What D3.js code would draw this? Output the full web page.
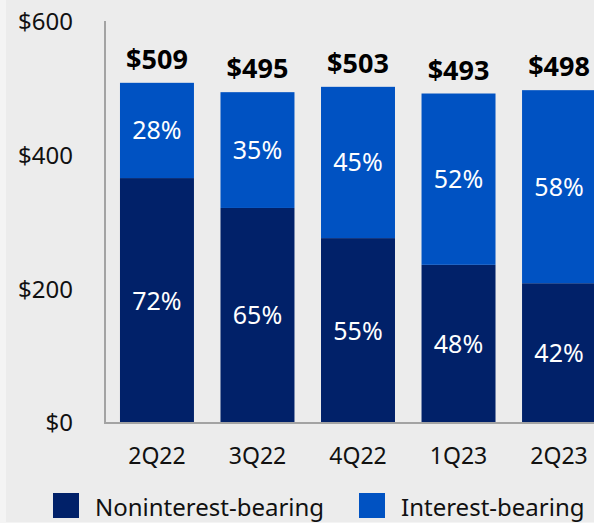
<!DOCTYPE html>
<html>
<head>
<meta charset="utf-8">
<script src="https://cdn.jsdelivr.net/npm/d3@7"></script>
<style>
  html, body { margin: 0; padding: 0; background: #f4f4f4; }
  svg { display: block; }
  text { font-family: "Noto Sans", "Open Sans", sans-serif; }
</style>
</head>
<body>
<svg id="chart" width="594" height="523"></svg>
<script>
// Deposits by quarter ($B) and the share held in noninterest-bearing accounts
const quarters = ["2Q22", "3Q22", "4Q22", "1Q23", "2Q23"];
const totals = [509, 495, 503, 493, 498];
const nonInterestPct = [72, 65, 55, 48, 42];
const interestPct = [28, 35, 45, 52, 58];
const yTicks = [0, 200, 400, 600];
const seriesNames = ["Noninterest-bearing", "Interest-bearing"];
const seriesColors = ["#012169", "#0052c2"];

const svg = d3.select("#chart");
const W = 594, H = 523;

// panel background
svg.append("rect").attr("x", 6).attr("y", 0).attr("width", W - 6).attr("height", H - 1)
  .attr("fill", "#ececec");

const plot = { left: 105, right: 611, top: 22, bottom: 423 };

const x = d3.scaleBand().domain(quarters).range([plot.left, plot.right])
  .paddingInner(0.264).paddingOuter(0.149);
const y = d3.scaleLinear().domain([0, 600]).range([plot.bottom, plot.top]);

const rows = quarters.map((q, i) => ({
  q,
  total: totals[i],
  non: totals[i] * nonInterestPct[i] / 100,
  nonPct: nonInterestPct[i],
  intPct: interestPct[i]
}));

// stacked bars
const g = svg.append("g");
rows.forEach(d => {
  g.append("rect")
    .attr("x", x(d.q)).attr("width", x.bandwidth())
    .attr("y", y(d.non)).attr("height", y(0) - y(d.non))
    .attr("fill", seriesColors[0]);
  g.append("rect")
    .attr("x", x(d.q)).attr("width", x.bandwidth())
    .attr("y", y(d.total)).attr("height", y(d.non) - y(d.total))
    .attr("fill", seriesColors[1]);

  const cx = x(d.q) + x.bandwidth() / 2;
  g.append("text")
    .attr("x", cx).attr("y", (y(d.non) + y(0)) / 2).attr("dy", "0.36em")
    .attr("text-anchor", "middle").attr("fill", "#fff").attr("font-size", 25)
    .text(d.nonPct + "%");
  g.append("text")
    .attr("x", cx).attr("y", (y(d.total) + y(d.non)) / 2).attr("dy", "0.36em")
    .attr("text-anchor", "middle").attr("fill", "#fff").attr("font-size", 25)
    .text(d.intPct + "%");
  g.append("text")
    .attr("x", cx).attr("y", y(d.total) - 14)
    .attr("text-anchor", "middle").attr("fill", "#000").attr("font-size", 27)
    .attr("font-weight", "bold")
    .text("$" + d.total);
});

// y axis
const yAxis = d3.axisLeft(y).tickValues(yTicks).tickSize(0).tickPadding(0)
  .tickFormat(d => "$" + d);
const ya = svg.append("g").attr("transform", `translate(73,0)`).call(yAxis);
ya.select(".domain").remove();
ya.selectAll("text").attr("font-size", 24).attr("fill", "#111")
  .style("font-family", "'Noto Sans', sans-serif");

// x axis labels
const xAxis = d3.axisBottom(x).tickSize(0).tickPadding(0);
const xa = svg.append("g").attr("transform", `translate(0,${plot.bottom + 25})`).call(xAxis);
xa.select(".domain").remove();
xa.selectAll("text").attr("font-size", 23).attr("fill", "#111")
  .style("font-family", "'Noto Sans', sans-serif");

// axis lines
svg.append("line").attr("x1", plot.left).attr("x2", plot.left)
  .attr("y1", 21).attr("y2", plot.bottom + 1)
  .attr("stroke", "#a3a3a3").attr("stroke-width", 2);
svg.append("line").attr("x1", plot.left - 1).attr("x2", W)
  .attr("y1", plot.bottom).attr("y2", plot.bottom)
  .attr("stroke", "#a3a3a3").attr("stroke-width", 2);

// legend
const legendX = [53, 359];
seriesNames.forEach((name, i) => {
  svg.append("rect").attr("x", legendX[i]).attr("y", 493).attr("width", 26).attr("height", 25)
    .attr("fill", seriesColors[i]);
  svg.append("text").attr("x", legendX[i] + 42).attr("y", 516)
    .attr("font-size", 24).attr("fill", "#111").text(name);
});
</script>
</body>
</html>
